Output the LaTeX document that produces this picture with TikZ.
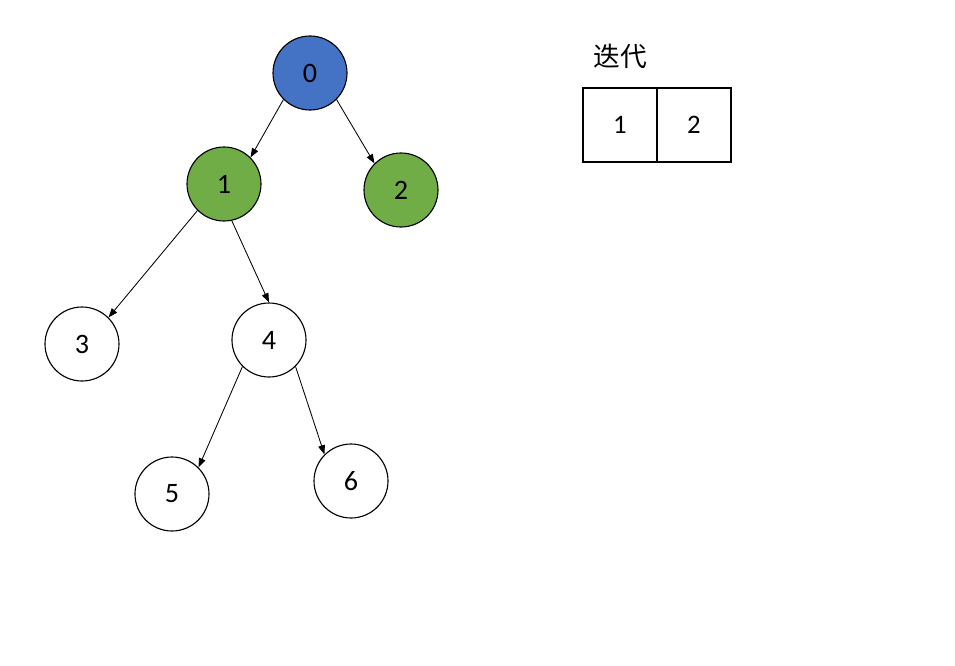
\documentclass[tikz,border=0pt]{standalone}
\usepackage{fontspec}
\setmainfont{Carlito}
\newfontfamily\cjk{Noto Sans CJK SC}
\usepackage{tikz}
\usetikzlibrary{arrows.meta, positioning}
\definecolor{rootblue}{HTML}{4472C4}
\definecolor{visitgreen}{HTML}{70AD47}
\tikzset{%
	tnode/.style={draw, circle, minimum size=18.5mm, inner sep=0mm, line width=0.8pt,%
		font=\fontsize{20}{20}\selectfont, on grid},
	root/.style={fill=rootblue},
	visited/.style={fill=visitgreen},
	cell/.style={draw, rectangle, minimum size=18.5mm, inner sep=0mm, line width=0.8pt,%
		font=\fontsize{19}{19}\selectfont, on grid},
	child/.style={-{Triangle[length=2.3mm, width=1.7mm]}, line width=0.6pt}
}
\begin{document}
\begin{tikzpicture}
	\useasboundingbox (-7.75,-14.8) rectangle (16.125,1.825);
	\node[tnode, root] (n0) {0};
	\node[tnode, visited, below left=2.775cm and 2.15cm of n0] (n1) {1};
	\node[tnode, visited, below right=2.925cm and 2.275cm of n0] (n2) {2};
	\node[tnode, below left=4cm and 3.55cm of n1] (n3) {3};
	\node[tnode, below right=3.9cm and 1.125cm of n1] (n4) {4};
	\node[tnode, below left=3.85cm and 2.425cm of n4] (n5) {5};
	\node[tnode, below right=3.525cm and 2.05cm of n4] (n6) {6};

	\node[cell, below right=1.3cm and 7.75cm of n0] (q1) {1};
	\node[cell, right=1.85cm of q1] (q2) {2};
	\node[on grid, above=1.725cm of q1, font=\cjk\fontsize{19}{19}\selectfont] (iter) {迭代};

	\draw[child] (n0.south west) to (n1.north east);
	\draw[child] (n0.south east) to (n2.north west);
	\draw[child] (n1.south west) to (n3.north east);
	\draw[child] (n1.-78) to (n4.north);
	\draw[child] (n4.south west) to (n5.north east);
	\draw[child] (n4.south east) to (n6.north west);
\end{tikzpicture}
\end{document}
